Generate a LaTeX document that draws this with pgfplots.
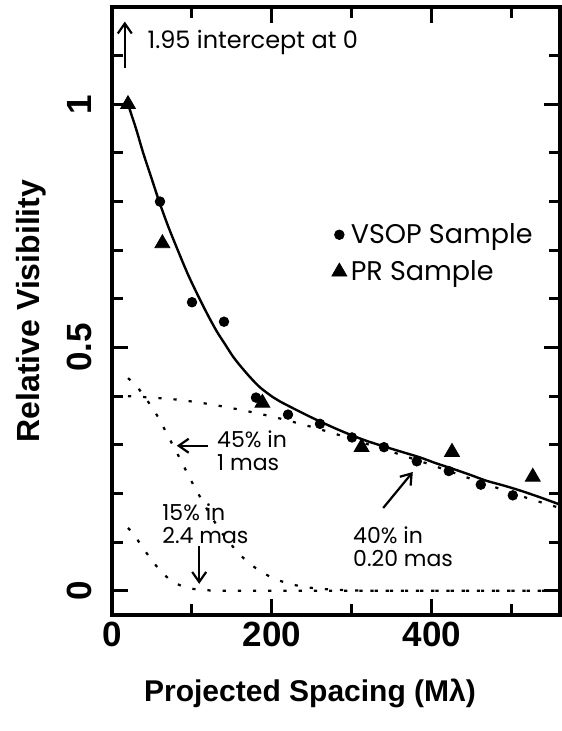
\documentclass[border=0pt]{standalone}
\usepackage{fontspec}
\setmainfont{Liberation Sans}
\newfontfamily\annfont{Poppins}
\usepackage{pgfplots}
\pgfplotsset{compat=1.18}
\usetikzlibrary{arrows.meta}

\begin{document}
\begin{tikzpicture}[
    ann/.style={font=\annfont\fontsize{11}{11.5}\selectfont, inner sep=0pt, align=left, anchor=west},
    arr/.style={line width=1.1pt, -{Straight Barb[length=5pt,width=7pt]}}
  ]
  \begin{axis}[
      scale only axis,
      width=224pt, height=304pt,
      xmin=0, xmax=560, ymin=-0.05, ymax=1.2,
      xtick={0,200,400}, minor xtick={100,300,500},
      ytick={0,0.5,1}, minor ytick={0.1,0.2,0.3,0.4,0.6,0.7,0.8,0.9,1.1},
      tick align=inside,
      major tick length=8pt, minor tick length=5.5pt,
      tick style={black, line width=1.5pt},
      axis line style={line width=2pt},
      /pgf/number format/assume math mode=true,
      tick label style={font=\fontsize{17.5}{19}\selectfont\bfseries},
      yticklabel style={rotate=90, anchor=south},
      yticklabel shift=6.5pt,
      xlabel={Projected Spacing (Mλ)},
      ylabel={Relative Visibility},
      xlabel style={font=\fontsize{15}{17}\selectfont\bfseries,
        at={(axis description cs:0.442,-0.143)}, anchor=base},
      ylabel style={font=\fontsize{16}{18}\selectfont\bfseries,
        at={(axis description cs:-0.145,0.5)}, anchor=south, inner sep=0pt},
      legend style={draw=none, fill=none, at={(axis description cs:0.49,0.595)}, anchor=west,
        font=\annfont\fontsize{13.5}{15}\selectfont, row sep=3pt, inner sep=0pt},
      legend cell align=left,
      legend image code/.code={\draw[#1] plot coordinates {(0pt,0pt)};},
    ]
    % model curves
    \addplot[black, line width=1.2pt, smooth, forget plot] coordinates {
      (20,1.0)(30,0.95)(39,0.90)(50,0.845)(59,0.80)(70,0.75)(83,0.697)(95,0.65)
      (108,0.605)(120,0.566)(131,0.533)(140,0.51)(151,0.482)(160,0.463)(172,0.440)
      (185,0.418)(201,0.398)(210,0.389)(230,0.372)(247,0.358)(260,0.348)(280,0.333)
      (302,0.318)(320,0.307)(343,0.295)(365,0.284)(385,0.274)(405,0.262)(427,0.25)
      (448,0.238)(468,0.226)(490,0.216)(510,0.206)(535,0.192)(560,0.177)
    };
    \addplot[black, line width=1.1pt, dash pattern=on 1.6pt off 6pt, smooth, forget plot] coordinates {
      (20,0.400)(40,0.398)(80,0.393)(120,0.384)(160,0.372)(200,0.358)(240,0.341)
      (280,0.322)(320,0.301)(360,0.280)(400,0.258)(440,0.235)(480,0.212)(520,0.190)(560,0.170)
    };
    \addplot[black, line width=1.1pt, dash pattern=on 1.6pt off 6pt, smooth, forget plot] coordinates {
      (20,0.437)(30,0.422)(40,0.400)(50,0.377)(60,0.350)(70,0.318)(80,0.287)(90,0.255)
      (100,0.223)(110,0.193)(120,0.164)(130,0.137)(140,0.113)(160,0.074)(180,0.046)
      (200,0.027)(220,0.015)(240,0.008)(260,0.004)(280,0.002)(300,0.001)(320,0)(440,0)(560,0)
    };
    \addplot[black, line width=1.1pt, dash pattern=on 1.6pt off 6pt, smooth, forget plot] coordinates {
      (20,0.129)(25,0.120)(30,0.109)(40,0.085)(50,0.062)(60,0.042)(70,0.026)(80,0.015)
      (90,0.008)(100,0.004)(110,0.002)(120,0.001)(140,0)(300,0)(560,0)
    };
    % data
    \addplot[only marks, mark=*, mark size=2.4pt, black] coordinates {
      (60,0.800)(100,0.593)(140,0.553)(180,0.397)(220,0.362)(260,0.343)(300,0.315)
      (340,0.295)(381,0.266)(421,0.246)(461,0.218)(501,0.196)
    };
    \addlegendentry{VSOP Sample}
    \addplot[only marks, mark=triangle*, mark size=4.3pt, black] coordinates {
      (20,1.0)(63,0.714)(188,0.386)(312,0.295)(425,0.285)(526,0.234)
    };
    \addlegendentry{PR Sample}

    % annotations
    \draw[arr] (axis cs:16,1.074) -- (axis cs:16,1.170);
    \node[ann, font=\annfont\fontsize{12}{13}\selectfont] at (axis cs:44,1.127) {1.95 intercept at 0};
    \draw[arr] (axis cs:120,0.298) -- (axis cs:81,0.298);
    \node[ann] at (axis cs:131,0.2875) {45\% in\\1 mas};
    \node[ann] at (axis cs:62.5,0.138) {15\% in\\2.4 mas};
    \draw[arr] (axis cs:109,0.092) -- (axis cs:109,0.014);
    \node[ann] at (axis cs:301,0.090) {40\% in\\0.20 mas};
    \draw[arr] (axis cs:339,0.170) -- (axis cs:376,0.244);
  \end{axis}
  % page extent
  \path ([shift={(-56pt,-58pt)}]current axis.south west) ([shift={(0pt,3.5pt)}]current axis.north east);
\end{tikzpicture}
\end{document}
